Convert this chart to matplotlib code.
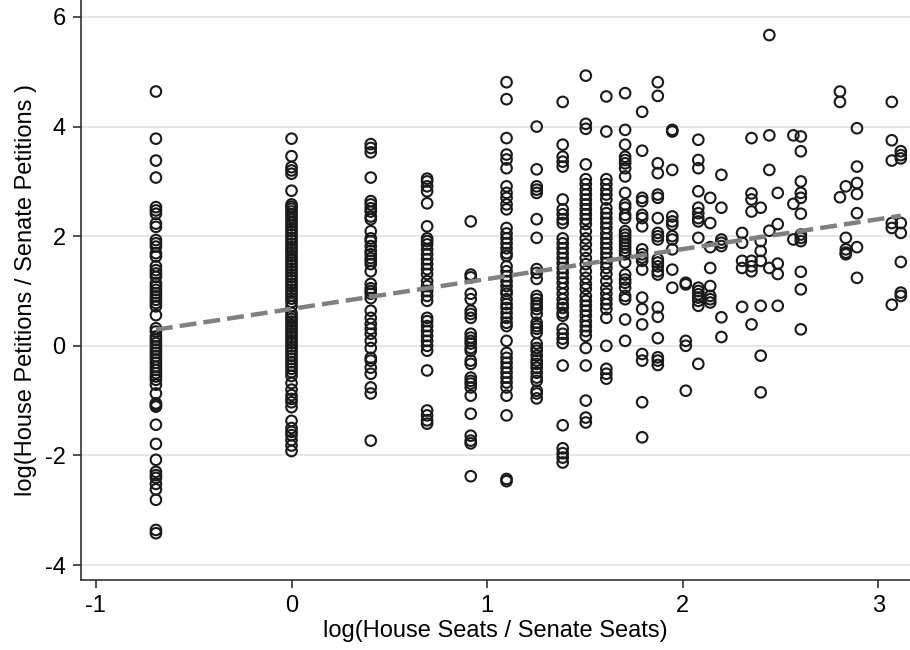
import matplotlib
matplotlib.use('Agg')
import matplotlib.pyplot as plt
import numpy as np

plt.rcParams['font.family'] = ['Liberation Sans', 'DejaVu Sans']
plt.rcParams['axes.unicode_minus'] = False

# log(House seats / Senate seats) for each chamber-size group
seat_ratio = [-0.693, 0.0, 0.405, 0.693, 0.916, 1.099, 1.253, 1.386, 1.504,
              1.609, 1.705, 1.792, 1.872, 1.946, 2.015, 2.079, 2.140, 2.197,
              2.303, 2.351, 2.398, 2.442, 2.485, 2.565, 2.603, 2.803, 2.833,
              2.890, 3.068, 3.114]

# log(House petitions / Senate petitions), one list per seat-ratio group
petition_ratio = [
    [4.64, 3.78, 3.38, 3.07, 2.53, 2.47, 2.41, 2.23, 2.17, 1.93, 1.87, 1.81,
     1.69, 1.63, 1.45, 1.38, 1.32, 1.26, 1.14, 1.08, 1.02, 0.96, 0.90, 0.84,
     0.78, 0.72, 0.56, 0.32, 0.26, 0.17, 0.11, 0.05, -0.01, -0.07, -0.13,
     -0.19, -0.25, -0.31, -0.38, -0.44, -0.50, -0.56, -0.62, -0.71, -0.87,
     -1.05, -1.08, -1.11, -1.44, -1.79, -2.08, -2.30, -2.36, -2.41, -2.52,
     -2.62, -2.81, -3.36, -3.42],
    [3.78, 3.46, 3.26, 3.20, 3.14, 2.83, 2.58, 2.54, 2.50, 2.45, 2.40, 2.35,
     2.30, 2.25, 2.20, 2.14, 2.09, 2.03, 1.97, 1.92, 1.86, 1.80, 1.75, 1.70,
     1.64, 1.58, 1.52, 1.47, 1.41, 1.36, 1.30, 1.25, 1.19, 1.13, 1.08, 1.02,
     0.97, 0.92, 0.86, 0.80, 0.72, 0.60, 0.54, 0.49, 0.44, 0.38, 0.33, 0.27,
     0.22, 0.16, 0.10, 0.05, -0.01, -0.06, -0.12, -0.18, -0.24, -0.30, -0.36,
     -0.42, -0.48, -0.55, -0.68, -0.80, -0.90, -0.97, -1.03, -1.12, -1.37,
     -1.50, -1.57, -1.63, -1.72, -1.82, -1.92],
    [3.68, 3.61, 3.53, 3.07, 2.64, 2.58, 2.51, 2.45, 2.36, 2.31, 2.09, 1.96,
     1.91, 1.82, 1.73, 1.67, 1.60, 1.55, 1.49, 1.36, 1.13, 1.05, 1.00, 0.95,
     0.87, 0.64, 0.51, 0.40, 0.31, 0.22, 0.09, -0.04, -0.22, -0.27, -0.40,
     -0.51, -0.76, -0.87, -1.73],
    [3.05, 3.00, 2.91, 2.82, 2.60, 2.18, 1.96, 1.91, 1.85, 1.76, 1.67, 1.58,
     1.49, 1.40, 1.31, 1.18, 1.09, 1.00, 0.91, 0.82, 0.51, 0.45, 0.36, 0.27,
     0.18, 0.09, 0.00, -0.09, -0.45, -1.18, -1.27, -1.36, -1.42],
    [2.27, 1.30, 1.25, 0.95, 0.85, 0.64, 0.58, 0.51, 0.22, 0.15, 0.09, 0.04,
     -0.04, -0.09, -0.27, -0.33, -0.58, -0.64, -0.69, -0.76, -0.91, -1.24,
     -1.64, -1.73, -1.78, -2.38],
    [4.81, 4.50, 3.79, 3.49, 3.40, 3.24, 2.91, 2.79, 2.70, 2.58, 2.49, 2.15,
     2.05, 1.96, 1.87, 1.78, 1.69, 1.64, 1.45, 1.36, 1.27, 1.18, 1.09, 1.00,
     0.95, 0.85, 0.76, 0.69, 0.60, 0.51, 0.42, 0.36, 0.09, -0.13, -0.22, -0.31,
     -0.40, -0.49, -0.58, -0.67, -0.76, -0.91, -1.27, -2.43, -2.47],
    [4.00, 3.22, 2.91, 2.85, 2.79, 2.31, 1.97, 1.40, 1.33, 1.22, 0.91, 0.85,
     0.78, 0.73, 0.67, 0.58, 0.42, 0.36, 0.31, 0.24, 0.04, -0.04, -0.09, -0.18,
     -0.27, -0.33, -0.40, -0.49, -0.58, -0.64, -0.82, -0.87, -0.96],
    [4.45, 3.67, 3.45, 3.36, 3.27, 2.67, 2.49, 2.40, 2.31, 2.24, 1.96, 1.87,
     1.78, 1.69, 1.60, 1.51, 1.42, 1.33, 1.24, 1.15, 1.05, 0.95, 0.85, 0.76,
     0.69, 0.60, 0.55, 0.31, 0.22, 0.13, 0.05, -0.36, -1.45, -1.87, -1.96,
     -2.04, -2.13],
    [4.93, 4.05, 3.96, 3.31, 3.04, 2.95, 2.85, 2.76, 2.67, 2.58, 2.49, 2.40,
     2.31, 2.22, 2.09, 1.96, 1.85, 1.73, 1.60, 1.49, 1.36, 1.24, 1.13, 1.04,
     0.91, 0.82, 0.73, 0.64, 0.55, 0.45, 0.36, 0.27, 0.18, -0.04, -0.36,
     -1.00, -1.31, -1.40],
    [4.55, 3.91, 3.04, 2.95, 2.85, 2.76, 2.67, 2.51, 2.42, 2.33, 2.24, 2.15,
     2.05, 1.96, 1.87, 1.78, 1.69, 1.60, 1.51, 1.42, 1.31, 1.18, 1.05, 0.95,
     0.85, 0.76, 0.67, 0.51, 0.00, -0.42, -0.51, -0.60],
    [4.61, 3.94, 3.67, 3.45, 3.39, 3.33, 3.24, 3.09, 2.79, 2.58, 2.52, 2.39,
     2.33, 2.09, 2.03, 1.97, 1.91, 1.85, 1.79, 1.73, 1.67, 1.52, 1.30, 1.21,
     1.15, 1.06, 0.91, 0.85, 0.48, 0.09],
    [4.27, 3.56, 2.70, 2.64, 2.39, 2.33, 2.18, 1.76, 1.67, 1.61, 1.55, 1.39,
     0.88, 0.67, 0.39, -0.15, -0.27, -1.03, -1.67],
    [4.81, 4.56, 3.33, 3.15, 2.76, 2.70, 2.33, 2.06, 2.00, 1.94, 1.58, 1.52,
     1.45, 1.36, 1.30, 0.70, 0.53, 0.14, -0.21, -0.27, -0.35],
    [3.94, 3.91, 3.21, 2.36, 2.27, 2.21, 2.00, 1.94, 1.76, 1.39, 1.06],
    [1.15, 1.12, 0.09, 0.00, -0.82],
    [3.76, 3.39, 3.24, 2.82, 2.52, 2.42, 2.33, 2.27, 1.97, 1.06, 1.00, 0.94,
     0.88, 0.82, 0.73, -0.33],
    [2.70, 2.24, 1.80, 1.42, 1.09, 0.91, 0.85, 0.79],
    [3.12, 2.52, 1.94, 1.88, 1.82, 0.52, 0.16],
    [2.06, 1.88, 1.55, 1.42, 0.71],
    [3.79, 2.78, 2.67, 2.45, 1.55, 1.45, 1.36, 0.39],
    [2.52, 1.91, 1.73, 1.55, 0.73, -0.18, -0.85],
    [5.67, 3.84, 3.21, 2.10, 1.42],
    [2.79, 2.22, 1.50, 1.31, 0.73],
    [3.84, 2.59, 1.94],
    [3.82, 3.55, 3.00, 2.79, 2.70, 2.41, 2.03, 1.97, 1.91, 1.35, 1.03, 0.30],
    [4.64, 4.45, 2.71],
    [2.91, 1.97, 1.76, 1.70, 1.67],
    [3.97, 3.27, 2.97, 2.77, 2.42, 1.80, 1.24],
    [4.45, 3.75, 3.38, 2.24, 2.15, 0.75],
    [3.55, 3.48, 3.42, 2.24, 2.06, 1.53, 0.97, 0.91],
]

# linear fit: intercept, slope
fit_coef = [0.673, 0.546]

xs = np.concatenate([[sr] * len(ys) for sr, ys in zip(seat_ratio, petition_ratio)])
ys = np.concatenate(petition_ratio)

fig = plt.figure(figsize=(9.1, 6.5), dpi=100)
ax = fig.add_axes([0.089, 0.108, 0.911, 0.892])

ax.scatter(xs, ys, s=58, facecolors='none', edgecolors='#1a1a1a',
           linewidths=1.5, zorder=3, clip_on=False)

xf = np.array([min(seat_ratio), max(seat_ratio)])
ax.plot(xf, fit_coef[0] + fit_coef[1] * xf, color='#808080', lw=3.2,
        dashes=(3.8, 1.6), zorder=4, solid_capstyle='butt')

ax.set_xlim(-1.076, 3.161)
ax.set_ylim(-4.27, 6.31)
ax.set_xticks([-1, 0, 1, 2, 3])
ax.set_yticks([-4, -2, 0, 2, 4, 6])
ax.grid(axis='y', color='#e6e6e6', linewidth=1.4, zorder=0)
ax.set_axisbelow(True)

for side in ['top', 'right']:
    ax.spines[side].set_visible(False)
for side in ['left', 'bottom']:
    ax.spines[side].set_color('#222222')
    ax.spines[side].set_linewidth(1.1)

ax.tick_params(axis='both', direction='out', length=6, width=1.1,
               color='#222222', labelsize=17, pad=5)
ax.set_xlabel('log(House Seats / Senate Seats)', fontsize=17, labelpad=2)
ax.set_ylabel('log(House Petitions / Senate Petitions )', fontsize=17,
              labelpad=6)

plt.savefig('out.png', dpi=100, facecolor='white')
